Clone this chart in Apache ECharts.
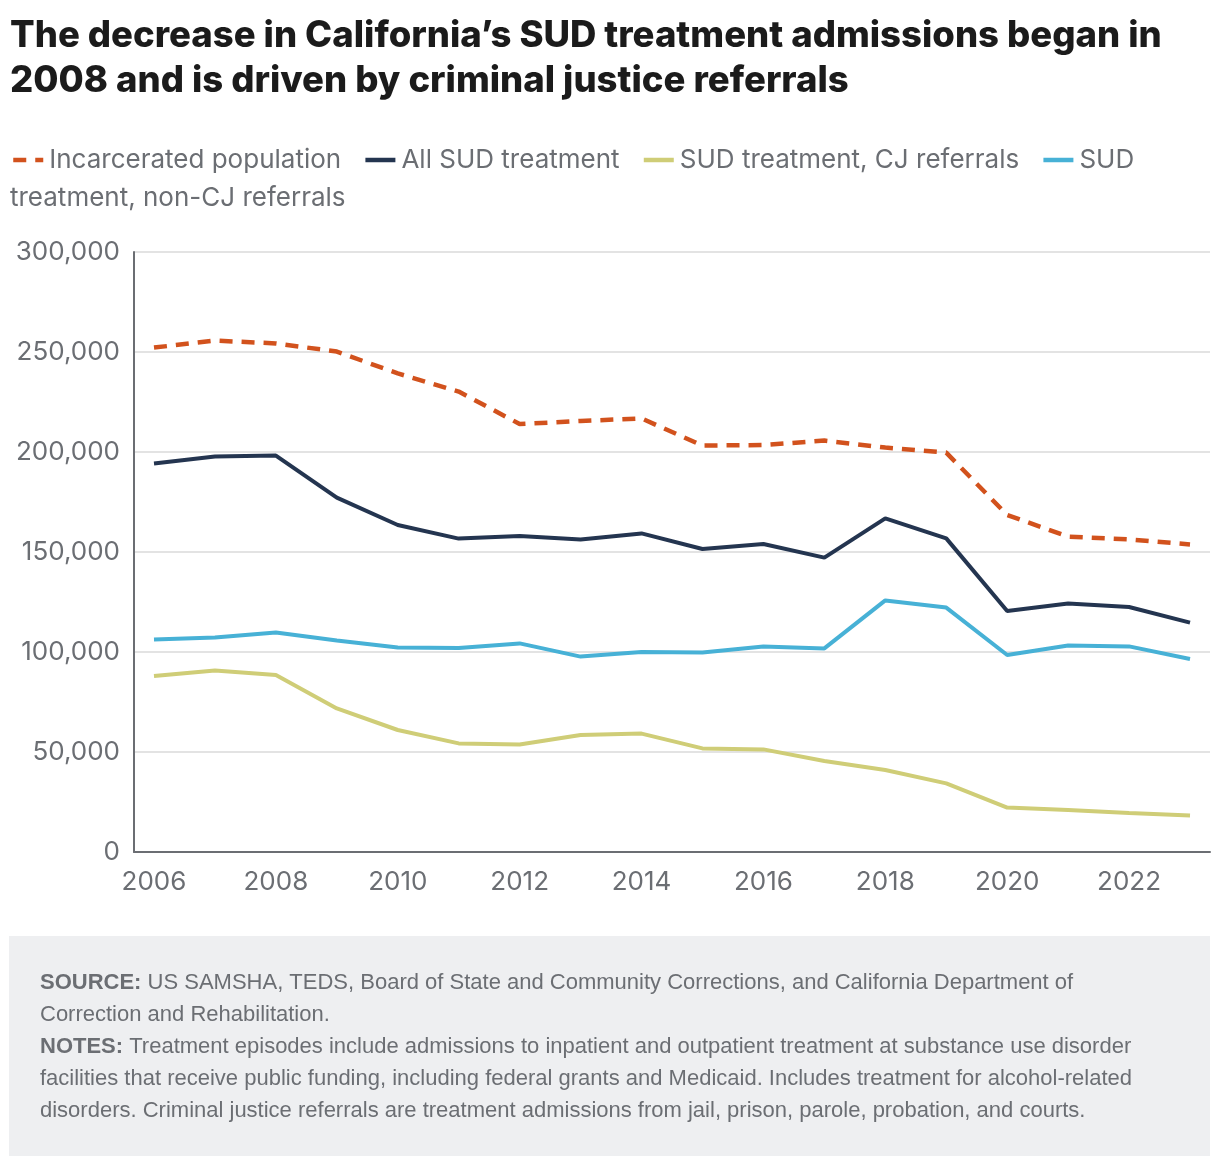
<!DOCTYPE html>
<html style="height: 100%">
<head>
<meta charset="utf-8">
<script src="https://cdn.jsdelivr.net/npm/echarts@6/dist/echarts.min.js"></script>
</head>
<body style="height: 100%; margin: 0; background: #fff">
<div id="container" style="width: 1220px; height: 1166px"></div>
<script type="text/javascript">
// values
var years = [2006, 2007, 2008, 2009, 2010, 2011, 2012, 2013, 2014, 2015, 2016, 2017, 2018, 2019, 2020, 2021, 2022, 2023];
var incarcerated = [252200, 255700, 254300, 250200, 239300, 230200, 214000, 215500, 216800, 203200, 203500, 205700, 202200, 199700, 168500, 157700, 156300, 153800];
var allSud = [194300, 197700, 198200, 177200, 163500, 156700, 158000, 156300, 159300, 151500, 154000, 147200, 166800, 156800, 120500, 124200, 122500, 114700];
var cjReferrals = [88000, 90700, 88500, 71800, 61000, 54300, 53800, 58500, 59200, 51800, 51300, 45500, 41000, 34300, 22200, 21000, 19500, 18200];
var nonCjReferrals = [106200, 107200, 109700, 105700, 102300, 102000, 104300, 97700, 100000, 99800, 102700, 101800, 125800, 122200, 98500, 103200, 102800, 96500];
var yearLabels = [2006, 2008, 2010, 2012, 2014, 2016, 2018, 2020, 2022];

var grey = '#6b6e73';
var font = 'Inter';

function pairs(arr) {
	return years.map(function (y, i) { return [y, arr[i]]; });
}

var myChart = echarts.init(document.getElementById('container'));

var option = {
	backgroundColor: '#fff',
	animation: false,
	title: {
		text: 'The decrease in California’s SUD treatment admissions began in\n2008 and is driven by criminal justice referrals',
		left: 5,
		top: 9,
		textStyle: {
			fontFamily: 'Inter',
			fontWeight: 800,
			fontSize: 36.5,
			lineHeight: 45,
			color: '#1b1b1b'
		}
	},
	legend: {
		left: 6,
		top: 142,
		width: 1200,
		itemWidth: 30,
		itemHeight: 14,
		itemGap: 22,
		itemStyle: { opacity: 0 },
		lineStyle: { width: 4.5 },
		textStyle: { fontFamily: font, fontSize: 26, color: grey, padding: [0, 0, 0, 1] },
		formatter: function (name) {
			return name === 'SUD treatment, non-CJ referrals' ? 'SUD' : name;
		},
		data: ['Incarcerated population', 'All SUD treatment', 'SUD treatment, CJ referrals', 'SUD treatment, non-CJ referrals']
	},
	graphic: [
		{
			type: 'text',
			left: 10,
			top: 185,
			style: { text: 'treatment, non-CJ referrals', font: '26px Inter', fill: grey }
		},
		{
			type: 'rect',
			shape: { x: 9, y: 936, width: 1201, height: 220 },
			style: { fill: '#eeeff1' }
		},
		{
			type: 'text',
			left: 40,
			top: 967,
			style: {
				text: '{b|SOURCE:} US SAMSHA, TEDS, Board of State and Community Corrections, and California Department of\nCorrection and Rehabilitation.\n{b|NOTES:} Treatment episodes include admissions to inpatient and outpatient treatment at substance use disorder\nfacilities that receive public funding, including federal grants and Medicaid. Includes treatment for alcohol-related\ndisorders. Criminal justice referrals are treatment admissions from jail, prison, parole, probation, and courts.',
				fontFamily: 'Liberation Sans',
				fontSize: 22,
				lineHeight: 32,
				fill: grey,
				rich: {
					b: { fontFamily: 'Liberation Sans', fontSize: 22, fontWeight: 'bold', fill: grey, lineHeight: 32 }
				}
			}
		}
	],
	grid: {
		left: 134,
		right: 10,
		top: 252,
		bottom: 314,
		containLabel: false
	},
	xAxis: {
		type: 'value',
		min: 2005.672,
		max: 2023.328,
		splitLine: { show: false },
		axisTick: { show: false },
		axisLine: { lineStyle: { color: grey, width: 2 } },
		axisLabel: {
			customValues: yearLabels,
			formatter: function (v) { return String(v); },
			fontFamily: font,
			fontSize: 26,
			color: grey,
			margin: 17
		}
	},
	yAxis: {
		type: 'value',
		min: 0,
		max: 300000,
		interval: 50000,
		axisLine: { show: true, lineStyle: { color: grey, width: 2 } },
		axisTick: { show: false },
		splitLine: { lineStyle: { color: '#e3e3e3', width: 2 } },
		axisLabel: {
			fontFamily: font,
			fontSize: 26,
			color: grey,
			margin: 14
		}
	},
	series: [
		{
			name: 'Incarcerated population',
			type: 'line',
			symbol: 'none',
			data: pairs(incarcerated),
			lineStyle: { color: '#d2521d', width: 4.5, type: [13, 9] },
			itemStyle: { color: '#d2521d' }
		},
		{
			name: 'All SUD treatment',
			type: 'line',
			symbol: 'none',
			data: pairs(allSud),
			lineStyle: { color: '#243550', width: 4 },
			itemStyle: { color: '#243550' }
		},
		{
			name: 'SUD treatment, CJ referrals',
			type: 'line',
			symbol: 'none',
			data: pairs(cjReferrals),
			lineStyle: { color: '#cfcd77', width: 4 },
			itemStyle: { color: '#cfcd77' }
		},
		{
			name: 'SUD treatment, non-CJ referrals',
			type: 'line',
			symbol: 'none',
			data: pairs(nonCjReferrals),
			lineStyle: { color: '#47b1d6', width: 4 },
			itemStyle: { color: '#47b1d6' }
		}
	]
};
myChart.setOption(option);
</script>
</body>
</html>
